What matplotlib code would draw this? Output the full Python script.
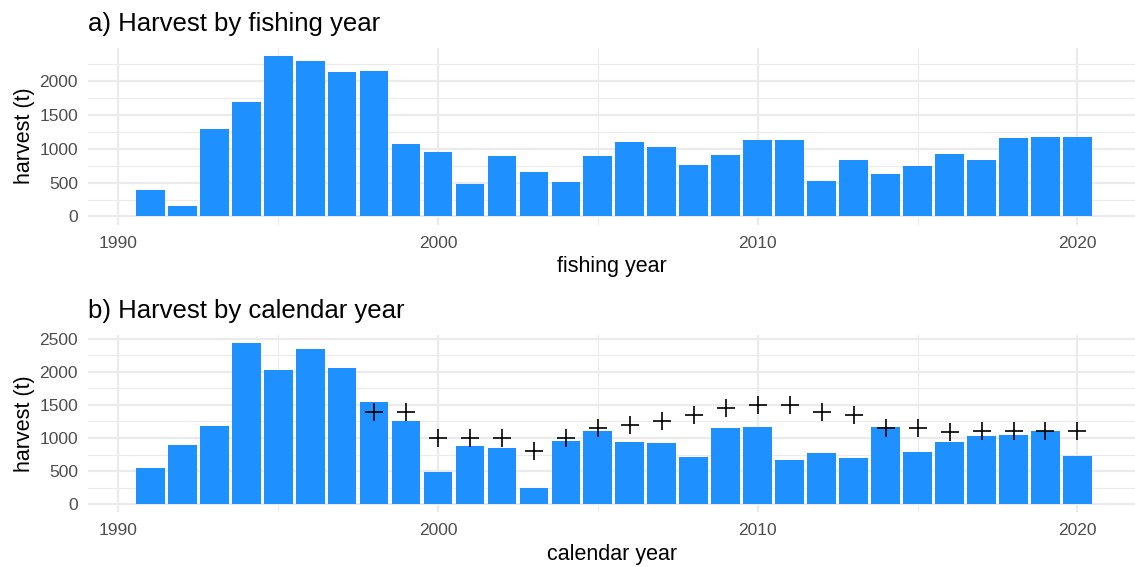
import matplotlib
matplotlib.use("Agg")
import matplotlib.pyplot as plt
import numpy as np

plt.rcParams["font.family"] = ["Liberation Sans", "DejaVu Sans"]

# Harvest (t) by fishing year, 1991-2020
fishing_years = list(range(1991, 2021))
fishing_harvest = [395, 158, 1299, 1699, 2380, 2306, 2143, 2158, 1077, 958,
                   484, 899, 662, 514, 899, 1107, 1033, 766, 914, 1136,
                   1136, 529, 840, 633, 751, 929, 840, 1166, 1181, 1181]

# Harvest (t) by calendar year, 1991-2020
calendar_years = list(range(1991, 2021))
calendar_harvest = [547, 894, 1180, 2430, 2023, 2339, 2053, 1541, 1255, 487,
                    879, 848, 246, 954, 1104, 938, 923, 712, 1149, 1164,
                    667, 773, 697, 1164, 788, 938, 1029, 1044, 1104, 727]

# Catch limit reference points, 1998-2020
limit_years = list(range(1998, 2021))
limit_values = [1400, 1400, 1000, 1000, 1000, 800, 1000, 1150, 1200, 1250,
                1350, 1450, 1500, 1500, 1400, 1350, 1150, 1150, 1090, 1100,
                1100, 1100, 1100]

BAR = "#1E90FF"
GRID = "#EBEBEB"
TICK = "#4D4D4D"

W, H = 1135, 567
fig = plt.figure(figsize=(W / 100, H / 100), dpi=100)


def px_axes(left, top, right, bottom):
    return fig.add_axes([left / W, 1 - bottom / H, (right - left) / W, (bottom - top) / H])


def style(ax, ymax, yticks, xlabel):
    ax.set_xlim(1989.062, 2021.80)
    ax.set_ylim(-0.05 * ymax, 1.05 * ymax)
    for s in ax.spines.values():
        s.set_visible(False)
    ax.set_xticks([1990, 2000, 2010, 2020])
    ax.set_xticks([1995, 2005, 2015], minor=True)
    ax.set_yticks(yticks)
    ax.set_yticks([t + 250 for t in yticks if t + 250 < 1.05 * ymax], minor=True)
    ax.grid(which="major", color=GRID, linewidth=1.6)
    ax.grid(which="minor", color=GRID, linewidth=0.8)
    ax.set_axisbelow(True)
    ax.tick_params(which="both", length=0)
    ax.tick_params(axis="x", pad=8, labelsize=12.5, labelcolor=TICK)
    ax.tick_params(axis="y", pad=7.5, labelsize=12.5, labelcolor=TICK)
    ax.set_xlabel(xlabel, fontsize=15.5, labelpad=4, color="black")
    ax.set_ylabel("harvest (t)", fontsize=15.5, labelpad=3, color="black")


ax1 = px_axes(88.3, 47.5, 1135, 224.5)
ax1.bar(fishing_years, fishing_harvest, width=0.9, color=BAR, linewidth=0)
style(ax1, max(fishing_harvest), [0, 500, 1000, 1500, 2000], "fishing year")

ax2 = px_axes(88.3, 335.3, 1135, 512.3)
ax2.bar(calendar_years, calendar_harvest, width=0.9, color=BAR, linewidth=0)
ax2.plot(limit_years, limit_values, linestyle="none", marker="+",
         markersize=13, markeredgewidth=1.2, color="black")
style(ax2, max(calendar_harvest), [0, 500, 1000, 1500, 2000, 2500], "calendar year")

fig.text(88.3 / W, 1 - 30.7 / H, "a) Harvest by fishing year", fontsize=18.5,
         ha="left", va="baseline")
fig.text(88.3 / W, 1 - 318.0 / H, "b) Harvest by calendar year", fontsize=18.5,
         ha="left", va="baseline")

fig.savefig("out.png", dpi=100)
